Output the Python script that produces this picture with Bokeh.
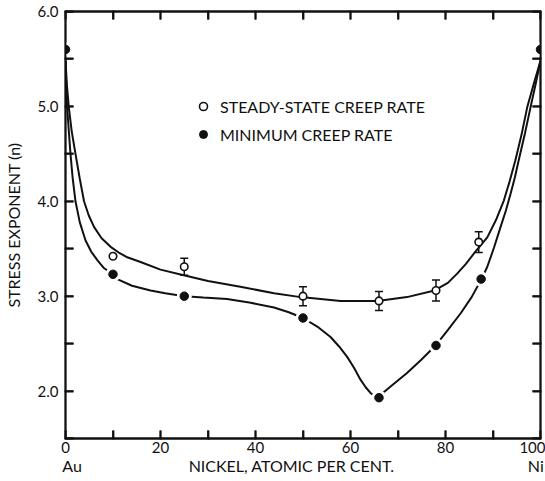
from bokeh.plotting import figure
from bokeh.models import (Range1d, LinearAxis, FixedTicker, Whisker, TeeHead,
                          ColumnDataSource, Legend, LegendItem)
from bokeh.embed import file_html
from bokeh.resources import INLINE

FONT = "Lato"
INK = "#111111"

# ---------------- data ----------------
min_x = [0, 10, 25, 50, 66, 78, 87.5, 100]
min_y = [5.6, 3.23, 3.00, 2.77, 1.93, 2.48, 3.18, 5.6]

ss_x = [10, 25, 50, 66, 78, 87]
ss_y = [3.42, 3.31, 3.00, 2.95, 3.06, 3.57]
ss_err = [None, 0.09, 0.10, 0.10, 0.11, 0.11]

ss_curve_x = [0, 0.3, 0.7, 1.3, 2.1, 3.0, 3.9, 4.9, 6.0, 7.6, 9.5, 11.2, 13.0, 15.8, 20,
              24.9, 30, 36.8, 43.9, 49.5, 57.9, 65.7, 71.9, 77.7, 80.5, 82.5, 84.3, 86,
              88.8, 90.6, 92.3, 93.5, 94.7, 96.0, 97.2, 98.6, 100]
ss_curve_y = [5.48, 5.22, 4.99, 4.74, 4.50, 4.24, 4.00, 3.85, 3.73, 3.61, 3.52, 3.46, 3.41,
              3.36, 3.28, 3.22, 3.16, 3.10, 3.03, 2.99, 2.95, 2.95, 2.99, 3.06, 3.14,
              3.24, 3.34, 3.45, 3.62, 3.80, 4.01, 4.21, 4.43, 4.70, 4.99, 5.24, 5.48]

min_curve_x = [0, 0.15, 0.35, 0.7, 1.05, 1.5, 2.1, 3.0, 4.2, 5.4, 6.7, 8, 10, 10.9, 14,
               17.9, 21, 25, 29, 34, 39, 43.9, 47, 50, 53, 55.8, 57.6, 59.3, 60.8, 62.1,
               63.2, 64.2, 65.0, 65.6, 68.5, 71.9, 74.9, 77.9, 80.6, 83.2, 85.5, 87.6,
               88.8, 90.2, 91.6, 92.7, 93.7, 94.6, 95.4, 96.7, 97.9, 99.0, 100]
min_curve_y = [5.48, 5.22, 4.99, 4.74, 4.50, 4.25, 4.00, 3.78, 3.59, 3.47, 3.38, 3.30,
               3.23, 3.18, 3.11, 3.06, 3.03, 3.00, 2.985, 2.97, 2.93, 2.88, 2.83, 2.77,
               2.68, 2.57, 2.47, 2.36, 2.24, 2.12, 2.04, 1.98, 1.95, 1.93, 2.05, 2.19,
               2.33, 2.48, 2.65, 2.82, 2.99, 3.18, 3.31, 3.51, 3.73, 3.90, 4.08, 4.25,
               4.43, 4.71, 4.99, 5.24, 5.48]

x_major = [0, 20, 40, 60, 80, 100]
x_minor = [10, 30, 50, 70, 90]
x_tick_labels = ["0", "20", "40", "60", "80", "100"]
y_major = [2, 3, 4, 5, 6]
y_minor = [1.5, 2.5, 3.5, 4.5, 5.5]
y_tick_labels = ["2.0", "3.0", "4.0", "5.0", "6.0"]

series_names = ["STEADY-STATE CREEP RATE", "MINIMUM CREEP RATE"]
x_title = "NICKEL, ATOMIC PER CENT."
y_title = "STRESS EXPONENT (n)"
end_labels = ["Au", "Ni"]

X0, X1, Y0, Y1 = 0, 100, 1.5, 6.0
FRAME_W, FRAME_H = 475, 427

# ---------------- figure ----------------
p = figure(width=545, height=481, output_backend="svg", toolbar_location=None,
           x_range=Range1d(X0, X1), y_range=Range1d(Y0, Y1),
           min_border_left=65, min_border_right=5, min_border_top=11,
           min_border_bottom=43)
p.outline_line_color = INK
p.outline_line_width = 1.8
p.xgrid.visible = False
p.ygrid.visible = False

def style_axis(ax, ticks, minor, labels, font_size="15px"):
    ax.ticker = FixedTicker(ticks=ticks, minor_ticks=minor)
    ax.major_tick_in = 8
    ax.major_tick_out = 1
    ax.minor_tick_in = 8
    ax.minor_tick_out = 1
    ax.major_tick_line_color = INK
    ax.minor_tick_line_color = INK
    ax.major_tick_line_width = 1.8
    ax.minor_tick_line_width = 1.8
    ax.axis_line_color = INK
    ax.axis_line_width = 1.8
    ax.major_label_overrides = {t: l for t, l in zip(ticks, labels)}
    ax.major_label_text_font = FONT
    ax.major_label_text_color = INK
    ax.major_label_text_font_size = font_size

xb = p.xaxis[0]
style_axis(xb, x_major, x_minor, x_tick_labels)
xb.major_label_standoff = 2

# second row under the axis: end-member labels and the axis title on one line
title_pos = 47.6
row_ticks = [X0 + 1.4, title_pos, X1 - 1.0]
row_labels = [end_labels[0], x_title, end_labels[1]]
xb2 = LinearAxis()
style_axis(xb2, row_ticks, [], row_labels, font_size="16px")
xb2.axis_line_color = None
xb2.major_tick_line_color = None
xb2.minor_tick_line_color = None
xb2.major_tick_in = 0
xb2.major_tick_out = 0
xb2.minor_tick_in = 0
xb2.minor_tick_out = 0
xb2.major_label_standoff = 0
p.add_layout(xb2, "below")

yl = p.yaxis[0]
style_axis(yl, y_major, y_minor, y_tick_labels)
yl.major_label_standoff = 6
yl.axis_label = y_title
yl.axis_label_text_font = FONT
yl.axis_label_text_font_size = "16px"
yl.axis_label_text_font_style = "normal"
yl.axis_label_text_color = INK
yl.axis_label_standoff = 12

xt = LinearAxis()
style_axis(xt, x_major, x_minor, ["" for _ in x_major], font_size="1px")
xt.major_label_standoff = 0
p.add_layout(xt, "above")
yr = LinearAxis()
style_axis(yr, y_major, y_minor, ["" for _ in y_major], font_size="1px")
yr.major_label_standoff = 0
p.add_layout(yr, "right")

# inward tick marks also drawn as glyphs, from the same tick lists
TL = 8
dx = TL * (X1 - X0) / FRAME_W
dy = TL * (Y1 - Y0) / FRAME_H
xt_all = sorted(x_major + x_minor)
yt_all = sorted(y_major + y_minor)
seg_kw = dict(line_color=INK, line_width=1.8)
n_y, n_x = len(yt_all), len(xt_all)
p.segment(x0=[X0] * n_y, y0=yt_all, x1=[X0 + dx] * n_y, y1=yt_all, **seg_kw)
p.segment(x0=[X1] * n_y, y0=yt_all, x1=[X1 - dx] * n_y, y1=yt_all, **seg_kw)
p.segment(x0=xt_all, y0=[Y0] * n_x, x1=xt_all, y1=[Y0 + dy] * n_x, **seg_kw)
p.segment(x0=xt_all, y0=[Y1] * n_x, x1=xt_all, y1=[Y1 - dy] * n_x, **seg_kw)

# curves
p.line(ss_curve_x, ss_curve_y, line_color=INK, line_width=2)
p.line(min_curve_x, min_curve_y, line_color=INK, line_width=2)

# error bars
ex = [x for x, e in zip(ss_x, ss_err) if e is not None]
ey = [y for y, e in zip(ss_y, ss_err) if e is not None]
ee = [e for e in ss_err if e is not None]
err_src = ColumnDataSource(dict(x=ex, upper=[y + e for y, e in zip(ey, ee)],
                                 lower=[y - e for y, e in zip(ey, ee)]))
wh = Whisker(base="x", upper="upper", lower="lower", source=err_src,
             dimension="height", line_color=INK, line_width=1.5,
             upper_head=TeeHead(size=8, line_color=INK, line_width=1.5),
             lower_head=TeeHead(size=8, line_color=INK, line_width=1.5))
p.add_layout(wh)

# filled points with white halo (gaps in the curve)
p.scatter(min_x, min_y, size=15, fill_color="white", line_color=None)
r_min = p.scatter(min_x, min_y, size=8.5, fill_color=INK, line_color=INK)
r_ss = p.scatter(ss_x, ss_y, size=7.5, fill_color="white", line_color=INK,
                 line_width=1.6)

legend = Legend(items=[LegendItem(label=series_names[0], renderers=[r_ss]),
                       LegendItem(label=series_names[1], renderers=[r_min])],
                location=(128, 294), padding=0, margin=0, spacing=8,
                glyph_width=20, glyph_height=20, label_height=20,
                label_standoff=7, border_line_alpha=0,
                background_fill_alpha=0, label_text_font=FONT,
                label_text_font_size="16px", label_text_color=INK)
p.add_layout(legend)

open("out.html", "w").write(file_html(p, INLINE))
